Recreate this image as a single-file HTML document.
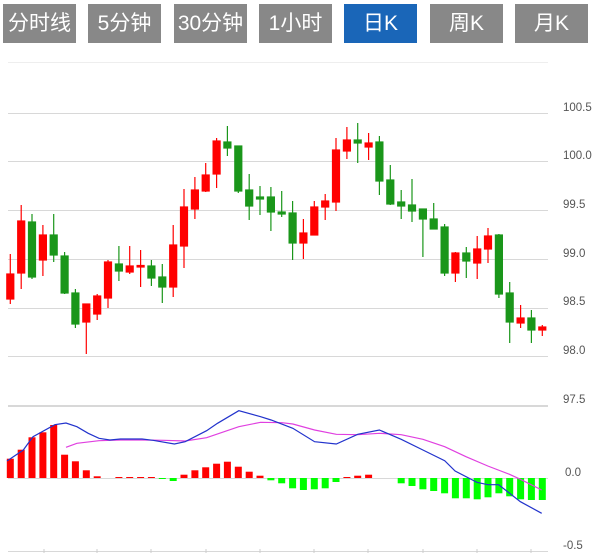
<!DOCTYPE html>
<html><head><meta charset="utf-8"><style>
html,body{margin:0;padding:0;background:#fff;width:610px;height:553px;overflow:hidden}
.b{position:absolute;top:4px;height:39px;width:73px;background:#888;color:#fff;font:21px/39px "Liberation Sans","Noto Sans CJK SC",sans-serif;text-align:center}
.a{background:#1a66b8}
svg{position:absolute;left:0;top:0}
</style></head><body>
<div class="b" style="left:3px">分时线</div>
<div class="b" style="left:88px">5分钟</div>
<div class="b" style="left:174px">30分钟</div>
<div class="b" style="left:259px">1小时</div>
<div class="b a" style="left:344px">日K</div>
<div class="b" style="left:430px">周K</div>
<div class="b" style="left:515px">月K</div>
<svg width="610" height="553" xmlns="http://www.w3.org/2000/svg">
<g stroke="#d8d8d8" stroke-width="1">
<line x1="8" y1="62.5" x2="548" y2="62.5" stroke="#eee"/>
<line x1="8" y1="113.5" x2="548" y2="113.5"/>
<line x1="8" y1="161.5" x2="548" y2="161.5"/>
<line x1="8" y1="210.5" x2="548" y2="210.5"/>
<line x1="8" y1="259.5" x2="548" y2="259.5"/>
<line x1="8" y1="308.5" x2="548" y2="308.5"/>
<line x1="8" y1="356.5" x2="548" y2="356.5"/>
<line x1="8" y1="406" x2="548" y2="406" stroke-width="2"/>
<line x1="8" y1="478.5" x2="548" y2="478.5"/>
<line x1="8" y1="551.5" x2="548" y2="551.5"/>
</g>
<g stroke="#ccc"><line x1="44" y1="549" x2="44" y2="553"/><line x1="97" y1="549" x2="97" y2="553"/><line x1="151" y1="549" x2="151" y2="553"/><line x1="206" y1="549" x2="206" y2="553"/><line x1="260" y1="549" x2="260" y2="553"/><line x1="314" y1="549" x2="314" y2="553"/><line x1="368" y1="549" x2="368" y2="553"/><line x1="423" y1="549" x2="423" y2="553"/><line x1="477" y1="549" x2="477" y2="553"/><line x1="531" y1="549" x2="531" y2="553"/></g>
<g font-family="Liberation Sans,sans-serif" font-size="11.5" fill="#555">
<text x="563" y="111">100.5</text><text x="563" y="159">100.0</text><text x="563" y="208">99.5</text><text x="563" y="257">99.0</text><text x="563" y="305">98.5</text><text x="563" y="354">98.0</text><text x="563" y="403">97.5</text><text x="565" y="476">0.0</text><text x="563" y="549">-0.5</text>
</g>
<g stroke-width="1.2">
<g stroke="#f00" fill="#f00">
<line x1="10.3" y1="254" x2="10.3" y2="304"/><rect x="6.8" y="274" width="7" height="25"/>
<line x1="21.2" y1="205" x2="21.2" y2="289"/><rect x="17.7" y="221" width="7" height="52"/>
<line x1="42.9" y1="225" x2="42.9" y2="276"/><rect x="39.4" y="235" width="7" height="25"/>
<line x1="86.3" y1="304" x2="86.3" y2="354"/><rect x="82.8" y="304" width="7" height="18"/>
<line x1="97.2" y1="294" x2="97.2" y2="320"/><rect x="93.7" y="296" width="7" height="18"/>
<line x1="108" y1="260" x2="108" y2="308"/><rect x="104.5" y="262" width="7" height="36"/>
<line x1="129.7" y1="246" x2="129.7" y2="274"/><rect x="126.2" y="266" width="7" height="6"/>
<line x1="140.6" y1="250" x2="140.6" y2="287"/><rect x="137.1" y="265.5" width="7" height="1.5"/>
<line x1="173.2" y1="225" x2="173.2" y2="297"/><rect x="169.7" y="245" width="7" height="42"/>
<line x1="184" y1="189" x2="184" y2="268"/><rect x="180.5" y="207" width="7" height="39"/>
<line x1="194.9" y1="177" x2="194.9" y2="219"/><rect x="191.4" y="190" width="7" height="19"/>
<line x1="205.7" y1="163" x2="205.7" y2="192"/><rect x="202.2" y="175" width="7" height="16"/>
<line x1="216.6" y1="138" x2="216.6" y2="188"/><rect x="213.1" y="141" width="7" height="33"/>
<line x1="303.4" y1="219" x2="303.4" y2="259"/><rect x="299.9" y="233" width="7" height="10"/>
<line x1="314.3" y1="201" x2="314.3" y2="235"/><rect x="310.8" y="207" width="7" height="28"/>
<line x1="325.2" y1="194" x2="325.2" y2="220"/><rect x="321.7" y="201" width="7" height="6"/>
<line x1="336" y1="138" x2="336" y2="211"/><rect x="332.5" y="150" width="7" height="52"/>
<line x1="346.9" y1="127" x2="346.9" y2="159"/><rect x="343.4" y="140" width="7" height="11"/>
<line x1="368.6" y1="133" x2="368.6" y2="160"/><rect x="365.1" y="143" width="7" height="4"/>
<line x1="455.4" y1="252" x2="455.4" y2="282"/><rect x="451.9" y="253" width="7" height="20"/>
<line x1="477.2" y1="236" x2="477.2" y2="279"/><rect x="473.7" y="249" width="7" height="14"/>
<line x1="488" y1="228" x2="488" y2="263"/><rect x="484.5" y="236" width="7" height="13"/>
<line x1="520.6" y1="305" x2="520.6" y2="328"/><rect x="517.1" y="318" width="7" height="5"/>
<line x1="542.3" y1="325" x2="542.3" y2="336"/><rect x="538.8" y="327" width="7" height="3"/>
</g>
<g stroke="#1a961a" fill="#1a961a">
<line x1="32" y1="214" x2="32" y2="279"/><rect x="28.5" y="222" width="7" height="55"/>
<line x1="53.7" y1="214" x2="53.7" y2="262"/><rect x="50.2" y="235" width="7" height="20"/>
<line x1="64.6" y1="252" x2="64.6" y2="294"/><rect x="61.1" y="256" width="7" height="37"/>
<line x1="75.4" y1="289" x2="75.4" y2="328"/><rect x="71.9" y="293" width="7" height="31"/>
<line x1="118.9" y1="246" x2="118.9" y2="281"/><rect x="115.4" y="264" width="7" height="7"/>
<line x1="151.4" y1="260" x2="151.4" y2="286"/><rect x="147.9" y="266" width="7" height="12"/>
<line x1="162.3" y1="264" x2="162.3" y2="303"/><rect x="158.8" y="277" width="7" height="10"/>
<line x1="227.4" y1="126" x2="227.4" y2="156"/><rect x="223.9" y="142" width="7" height="6"/>
<line x1="238.3" y1="146" x2="238.3" y2="193"/><rect x="234.8" y="146" width="7" height="45"/>
<line x1="249.2" y1="174" x2="249.2" y2="220"/><rect x="245.7" y="190" width="7" height="16"/>
<line x1="260" y1="186" x2="260" y2="215"/><rect x="256.5" y="197" width="7" height="2"/>
<line x1="270.9" y1="187" x2="270.9" y2="231"/><rect x="267.4" y="197" width="7" height="15"/>
<line x1="281.7" y1="191" x2="281.7" y2="217"/><rect x="278.2" y="212" width="7" height="2"/>
<line x1="292.6" y1="201" x2="292.6" y2="260"/><rect x="289.1" y="213" width="7" height="30"/>
<line x1="357.7" y1="123" x2="357.7" y2="163"/><rect x="354.2" y="140" width="7" height="3"/>
<line x1="379.4" y1="136" x2="379.4" y2="195"/><rect x="375.9" y="142" width="7" height="39"/>
<line x1="390.3" y1="165" x2="390.3" y2="205"/><rect x="386.8" y="180" width="7" height="24"/>
<line x1="401.2" y1="190" x2="401.2" y2="219"/><rect x="397.7" y="202" width="7" height="4"/>
<line x1="412" y1="179" x2="412" y2="222"/><rect x="408.5" y="205" width="7" height="6"/>
<line x1="422.9" y1="209" x2="422.9" y2="257"/><rect x="419.4" y="209" width="7" height="10"/>
<line x1="433.7" y1="203" x2="433.7" y2="229"/><rect x="430.2" y="219" width="7" height="10"/>
<line x1="444.6" y1="224" x2="444.6" y2="276"/><rect x="441.1" y="227" width="7" height="46"/>
<line x1="466.3" y1="247" x2="466.3" y2="278"/><rect x="462.8" y="253" width="7" height="8"/>
<line x1="498.9" y1="234" x2="498.9" y2="298"/><rect x="495.4" y="235" width="7" height="59"/>
<line x1="509.7" y1="282" x2="509.7" y2="343"/><rect x="506.2" y="293" width="7" height="29"/>
<line x1="531.4" y1="310" x2="531.4" y2="343"/><rect x="527.9" y="318" width="7" height="12"/>
</g>
</g>
<g fill="#f00">
<rect x="6.8" y="458.7" width="7" height="19.3"/><rect x="17.7" y="449.7" width="7" height="28.3"/><rect x="28.5" y="437.3" width="7" height="40.7"/><rect x="39.4" y="432.3" width="7" height="45.7"/><rect x="50.2" y="425" width="7" height="53"/><rect x="61.1" y="454.7" width="7" height="23.3"/><rect x="71.9" y="461.3" width="7" height="16.7"/><rect x="82.8" y="470.3" width="7" height="7.7"/><rect x="93.7" y="476.3" width="7" height="1.7"/>
<rect x="115.4" y="477" width="7" height="1"/><rect x="126.2" y="477" width="7" height="1"/><rect x="137.1" y="477" width="7" height="1"/><rect x="147.9" y="477" width="7" height="1"/>
<rect x="180.5" y="474.7" width="7" height="3.3"/><rect x="191.4" y="470.3" width="7" height="7.7"/><rect x="202.2" y="467.3" width="7" height="10.7"/><rect x="213.1" y="463.7" width="7" height="14.3"/><rect x="223.9" y="461.7" width="7" height="16.3"/><rect x="234.8" y="466.7" width="7" height="11.3"/><rect x="245.7" y="471.7" width="7" height="6.3"/><rect x="256.5" y="475.7" width="7" height="2.3"/>
<rect x="343.4" y="477" width="7" height="1"/><rect x="354.2" y="475.7" width="7" height="2.3"/><rect x="365.1" y="474.7" width="7" height="3.3"/>
</g>
<g fill="#0f0">
<rect x="158.8" y="478" width="7" height="1"/><rect x="169.7" y="478" width="7" height="3"/><rect x="180.5" y="478" width="0" height="0"/>
<rect x="267.4" y="478" width="7" height="2.3"/><rect x="278.2" y="478" width="7" height="5.3"/><rect x="289.1" y="478" width="7" height="10.3"/><rect x="299.9" y="478" width="7" height="12"/><rect x="310.8" y="478" width="7" height="11.3"/><rect x="321.7" y="478" width="7" height="10.3"/><rect x="332.5" y="478" width="7" height="4"/>
<rect x="397.7" y="478" width="7" height="5.3"/><rect x="408.5" y="478" width="7" height="8"/><rect x="419.4" y="478" width="7" height="11.3"/><rect x="430.2" y="478" width="7" height="13"/><rect x="441.1" y="478" width="7" height="15.3"/><rect x="451.9" y="478" width="7" height="20.3"/><rect x="462.8" y="478" width="7" height="20.3"/><rect x="473.7" y="478" width="7" height="21.3"/><rect x="484.5" y="478" width="7" height="19.3"/><rect x="495.4" y="478" width="7" height="15.3"/><rect x="506.2" y="478" width="7" height="18.3"/><rect x="517.1" y="478" width="7" height="21.3"/><rect x="527.9" y="478" width="7" height="22"/><rect x="538.8" y="478" width="7" height="22"/>
</g>
<polyline fill="none" stroke="#e040e0" stroke-width="1.2" points="66,447.3 76.9,443.3 99,440.7 120.4,440 142.1,440 163.9,440.3 185.2,441 206.6,437.7 238.8,426.7 260.6,422.3 281.9,422.7 292.8,424 314.6,430 336.3,434.3 357.7,434.7 379.4,433.3 401.2,434.7 422.9,439.3 444.7,446.7 466,456.7 487.8,466 509.5,474.3 520.4,479.3 541.7,490"/>
<polyline fill="none" stroke="#2233cc" stroke-width="1.2" points="7,461 23.3,450 33,436.7 54.8,424.7 66,423 76.9,426.7 88.2,433.3 99,438.3 109.9,440 120.4,439 142.1,439 153,440.3 174.4,444 185.2,441.7 206.6,430.7 217.5,423.3 238.8,410.7 260.6,416.7 271.1,420 292.8,428.3 314.6,441.7 336.3,444 357.7,434.3 379.4,430 401.2,439.3 422.9,450 444.7,460.7 455.1,471 476.9,482.3 487.8,484.7 498.6,484.7 520.4,501.7 541.7,513.3"/>
</svg>
</body></html>
